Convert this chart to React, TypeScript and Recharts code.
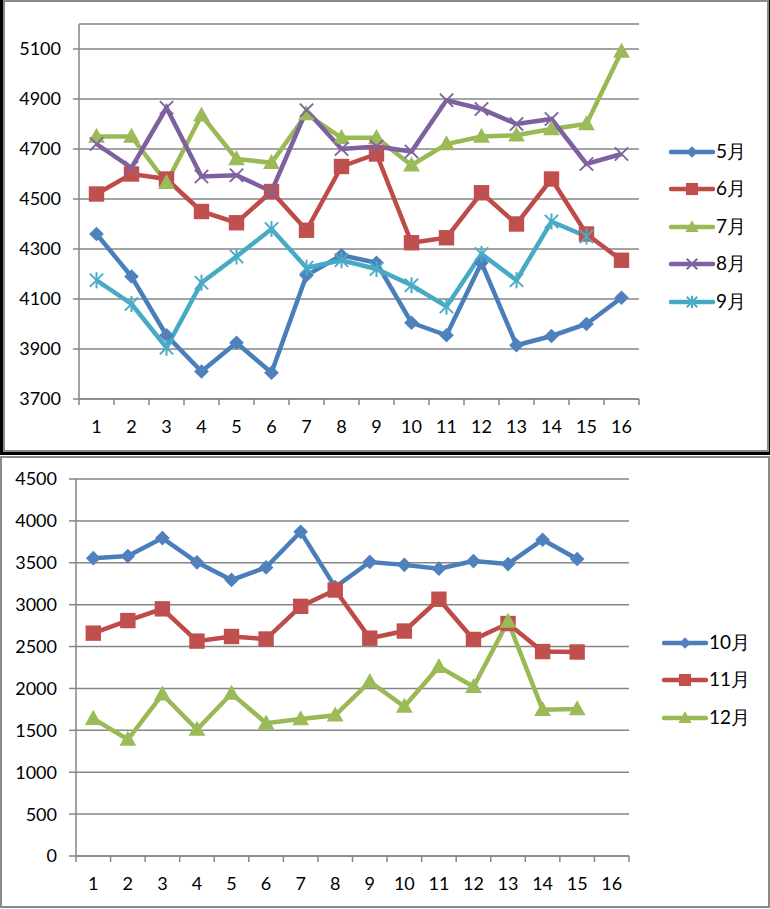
import React from "react"
import { LineChart, Line, XAxis, YAxis, CartesianGrid, Legend } from "recharts"

const days = ["1", "2", "3", "4", "5", "6", "7", "8", "9", "10", "11", "12", "13", "14", "15", "16"]

// top chart: May - Sep
const may = [4360, 4190, 3955, 3810, 3925, 3805, 4195, 4275, 4245, 4005, 3955, 4245, 3915, 3952, 4000, 4105]
const jun = [4520, 4600, 4580, 4450, 4405, 4530, 4375, 4630, 4680, 4325, 4345, 4525, 4400, 4580, 4360, 4255]
const jul = [4750, 4750, 4565, 4835, 4660, 4645, 4840, 4745, 4745, 4635, 4720, 4750, 4755, 4780, 4800, 5090]
const aug = [4720, 4625, 4865, 4590, 4595, 4530, 4855, 4700, 4710, 4690, 4895, 4860, 4800, 4820, 4640, 4680]
const sep = [4175, 4080, 3905, 4165, 4270, 4380, 4225, 4255, 4220, 4155, 4070, 4280, 4175, 4410, 4350, null]

// bottom chart: Oct - Dec
const oct = [3555, 3580, 3795, 3505, 3295, 3445, 3870, 3210, 3510, 3475, 3430, 3520, 3485, 3775, 3545, null]
const nov = [2660, 2810, 2950, 2565, 2620, 2590, 2980, 3175, 2600, 2685, 3065, 2585, 2775, 2440, 2435, null]
const dec = [1640, 1390, 1930, 1510, 1940, 1585, 1635, 1680, 2080, 1785, 2260, 2020, 2800, 1745, 1755, null]

const topTicks = [3700, 3900, 4100, 4300, 4500, 4700, 4900, 5100]
const bottomTicks = [0, 500, 1000, 1500, 2000, 2500, 3000, 3500, 4000, 4500]

const topRows = days.map((d, i) => ({ day: d, "5月": may[i], "6月": jun[i], "7月": jul[i], "8月": aug[i], "9月": sep[i] }))
const bottomRows = days.map((d, i) => ({ day: d, "10月": oct[i], "11月": nov[i], "12月": dec[i] }))

type Shape = "diamond" | "square" | "triangle" | "cross" | "star"

const topSeries: { key: string; line: string; fill: string; shape: Shape }[] = [
    { key: "5月", line: "#4A7EBB", fill: "#4F81BD", shape: "diamond" },
    { key: "6月", line: "#BE4B48", fill: "#C0504D", shape: "square" },
    { key: "7月", line: "#98B954", fill: "#9BBB59", shape: "triangle" },
    { key: "8月", line: "#7D60A0", fill: "#8064A2", shape: "cross" },
    { key: "9月", line: "#46AAC5", fill: "#4BACC6", shape: "star" },
]
const bottomSeries: { key: string; line: string; fill: string; shape: Shape }[] = [
    { key: "10月", line: "#4A7EBB", fill: "#4F81BD", shape: "diamond" },
    { key: "11月", line: "#BE4B48", fill: "#C0504D", shape: "square" },
    { key: "12月", line: "#98B954", fill: "#9BBB59", shape: "triangle" },
]

const FONT = "Lato, 'Liberation Sans', sans-serif"
const GRID = "#868686"

function Marker({ cx, cy, shape, fill, s }: { cx: number; cy: number; shape: Shape; fill: string; s: number }) {
    if (shape === "diamond") {
        const d = s * 1.05
        return <polygon points={`${cx},${cy - d} ${cx + d},${cy} ${cx},${cy + d} ${cx - d},${cy}`} fill={fill} />
    }
    if (shape === "square") {
        const d = s * 1.1
        return <rect x={cx - d} y={cy - d} width={d * 2} height={d * 2} fill={fill} />
    }
    if (shape === "triangle") {
        return <polygon points={`${cx},${cy - s * 1.25} ${cx + s * 1.2},${cy + s * 0.9} ${cx - s * 1.2},${cy + s * 0.9}`} fill={fill} />
    }
    const d = s * 0.95
    return (
        <g stroke={fill} strokeWidth={2}>
            <line x1={cx - d} y1={cy - d} x2={cx + d} y2={cy + d} />
            <line x1={cx - d} y1={cy + d} x2={cx + d} y2={cy - d} />
            {shape === "star" && <line x1={cx} y1={cy - s * 1.15} x2={cx} y2={cy + s * 1.15} />}
        </g>
    )
}

function makeDot(shape: Shape, fill: string) {
    return (props: any) => {
        const { cx, cy, index, value } = props
        if (cx == null || cy == null || value == null) return <g key={index} />
        return <g key={index}><Marker cx={cx} cy={cy} shape={shape} fill={fill} s={7} /></g>
    }
}

function makeTick(axisY: number, step: number) {
    return (props: any) => {
        const { x, payload, index } = props
        return (
            <g>
                <line x1={x + step / 2} y1={axisY} x2={x + step / 2} y2={axisY + 6} stroke={GRID} strokeWidth={1.5} />
                {index === 0 && <line x1={x - step / 2} y1={axisY} x2={x - step / 2} y2={axisY + 6} stroke={GRID} strokeWidth={1.5} />}
                <text x={x} y={axisY + 34} textAnchor="middle" fontFamily={FONT} fontSize={18} fill="#000">{payload.value}</text>
            </g>
        )
    }
}

function makeLegend(series: { key: string; line: string; fill: string; shape: Shape }[]) {
    return () => (
        <div style={{ fontFamily: FONT, fontSize: 19, color: "#000" }}>
            {series.map((s) => (
                <div key={s.key} style={{ display: "flex", alignItems: "center", height: 37.5 }}>
                    <svg width={46} height={20} style={{ display: "block" }}>
                        <line x1={2} y1={10} x2={44} y2={10} stroke={s.line} strokeWidth={4.5} strokeLinecap="round" />
                        <Marker cx={23} cy={10} shape={s.shape} fill={s.fill} s={5.5} />
                    </svg>
                    <span style={{ marginLeft: 1 }}>{s.key}</span>
                </div>
            ))}
        </div>
    )
}

const yTick = { fontFamily: FONT, fontSize: 18, fill: "#000" }

export default function App() {
    return (
        <div style={{ position: "absolute", left: 0, top: 0, width: 770, height: 909, background: "#fff" }}>
            <div style={{ position: "absolute", left: 0, top: 0, width: 770, height: 455, boxSizing: "border-box", borderLeft: "3px solid #000", borderBottom: "3px solid #000", borderRight: "1px solid #000" }}>
                <div style={{ width: "100%", height: "100%", boxSizing: "border-box", border: "2px solid #8a8a8a" }} />
            </div>
            <div style={{ position: "absolute", left: 0, top: 456, width: 770, height: 452, boxSizing: "border-box", border: "2px solid #8a8a8a" }} />

            <div style={{ position: "absolute", left: 0, top: 0 }}>
                <LineChart width={770} height={452} data={topRows} margin={{ top: 24, right: 131, bottom: 13, left: 0 }}>
                    <CartesianGrid vertical={false} stroke={GRID} strokeWidth={1.5} />
                    <XAxis dataKey="day" height={40} padding={{ left: 17.5, right: 17.5 }} tickLine={false} stroke={GRID} strokeWidth={1.5} tick={makeTick(399, 35)} interval={0} />
                    <YAxis type="number" domain={[3700, 5200]} ticks={topTicks} width={79} tickSize={6} tickMargin={12} stroke={GRID} strokeWidth={1.5} tick={yTick} interval={0} />
                    {topSeries.map((s) => (
                        <Line key={s.key} dataKey={s.key} type="linear" stroke={s.line} strokeWidth={4.5} dot={makeDot(s.shape, s.fill)} activeDot={false} isAnimationActive={false} />
                    ))}
                    <Legend layout="vertical" align="center" verticalAlign="middle" content={makeLegend(topSeries)} wrapperStyle={{ left: 669, top: 133, width: 100 }} />
                </LineChart>
            </div>

            <div style={{ position: "absolute", left: 0, top: 456 }}>
                <LineChart width={770} height={453} data={bottomRows} margin={{ top: 23, right: 141, bottom: 13, left: 0 }}>
                    <CartesianGrid vertical={false} stroke={GRID} strokeWidth={1.5} />
                    <XAxis dataKey="day" height={40} padding={{ left: 17.28, right: 17.28 }} tickLine={false} stroke={GRID} strokeWidth={1.5} tick={makeTick(400, 34.56)} interval={0} />
                    <YAxis type="number" domain={[0, 4500]} ticks={bottomTicks} width={76} tickSize={7} tickMargin={12} stroke={GRID} strokeWidth={1.5} tick={yTick} interval={0} />
                    {bottomSeries.map((s) => (
                        <Line key={s.key} dataKey={s.key} type="linear" stroke={s.line} strokeWidth={4.5} dot={makeDot(s.shape, s.fill)} activeDot={false} isAnimationActive={false} />
                    ))}
                    <Legend layout="vertical" align="center" verticalAlign="middle" content={makeLegend(bottomSeries)} wrapperStyle={{ left: 662, top: 168, width: 110 }} />
                </LineChart>
            </div>
        </div>
    )
}
